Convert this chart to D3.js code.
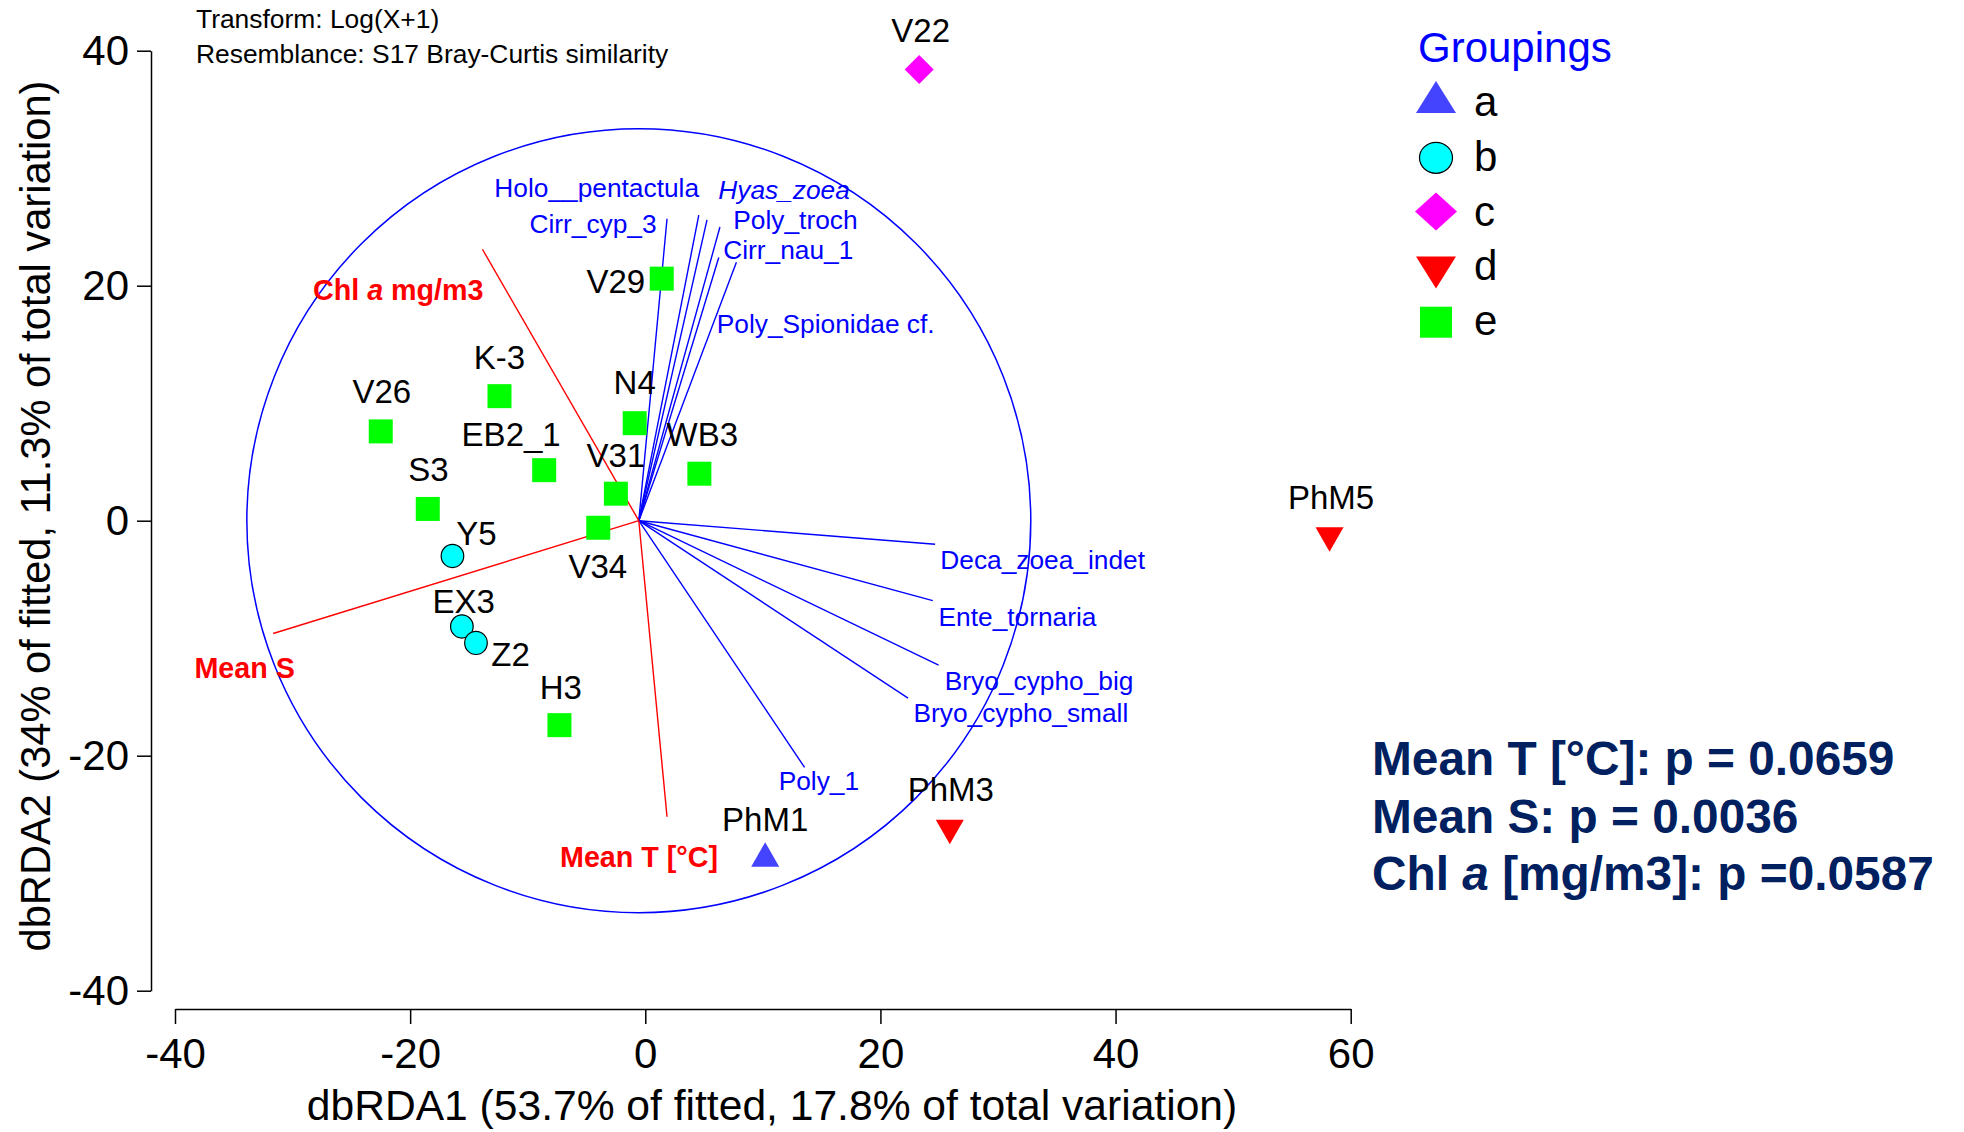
<!DOCTYPE html>
<html>
<head>
<meta charset="utf-8">
<script src="https://cdn.jsdelivr.net/npm/d3@7"></script>
<style>
  body { margin: 0; background: #fff; }
  text { font-family: "Liberation Sans", Arial, Helvetica, sans-serif; }
</style>
</head>
<body>
<svg id="chart" width="1964" height="1132"></svg>
<script>
// ---- Site scores on dbRDA1 / dbRDA2 ----
const sites    = ["V22","V29","K-3","V26","N4","EB2_1","WB3","V31","S3","V34","Y5","EX3","Z2","H3","PhM1","PhM3","PhM5"];
const siteGroup = ["c","e","e","e","e","e","e","e","e","e","b","b","b","e","a","d","d"];
const dbRDA1   = [23.3, 1.4, -12.4, -22.5, -0.9, -8.6, 4.6, -2.5, -18.5, -4.0, -16.4, -15.6, -14.4, -7.3, 10.2, 25.9, 58.2];
const dbRDA2   = [38.4, 20.6, 10.6, 7.6, 8.3, 4.3, 4.0, 2.3, 1.0, -0.6, -3.0, -9.0, -10.4, -17.4, -28.4, -26.5, -1.6];

// ---- Predictor (environmental) vectors, relative to the circle centre ----
const envNames = ["Chl *a* mg/m3", "Mean S", "Mean T [°C]"];
const envX     = [-13.3, -31.1, 2.4];
const envY     = [23.1, -9.6, -25.2];

// ---- Species vectors, relative to the circle centre ----
const sppNames = ["Cirr_cyp_3","Holo__pentactula","*Hyas_zoea*","Poly_troch","Cirr_nau_1","Poly_Spionidae cf.",
                  "Deca_zoea_indet","Ente_tornaria","Bryo_cypho_big","Bryo_cypho_small","Poly_1"];
const sppX     = [2.4, 5.1, 5.8, 6.9, 6.8, 8.3, 25.2, 25.0, 25.5, 22.9, 14.1];
const sppY     = [25.7, 26.0, 25.6, 25.0, 22.4, 22.0, -2.0, -6.8, -12.3, -15.1, -21.0];

// Vector circle (centre in axis units, radius in axis units)
const circleCentre = [-0.55, 0];
const circleRadius = 33.34;

// Axis ticks and titles
const xTicks = [-40, -20, 0, 20, 40, 60];
const yTicks = [-40, -20, 0, 20, 40];
const xTitle = "dbRDA1 (53.7% of fitted, 17.8% of total variation)";
const yTitle = "dbRDA2 (34% of fitted, 11.3% of total variation)";
const headerLines = ["Transform: Log(X+1)", "Resemblance: S17 Bray-Curtis similarity"];

// Legend groups
const groups = ["a","b","c","d","e"];
const statsLines = ["Mean T [°C]: p = 0.0659", "Mean S: p = 0.0036", "Chl *a* [mg/m3]: p =0.0587"];

// ---- Presentation ----
const groupStyle = {
  a: {shape: "triUp",   fill: "#4444ff"},
  b: {shape: "circle",  fill: "#00ffff", stroke: "#000"},
  c: {shape: "diamond", fill: "#ff00ff"},
  d: {shape: "triDown", fill: "#ff0000"},
  e: {shape: "square",  fill: "#00ff00"}
};

// label placement for site names: [dx, dy] from the marker centre (px), text centred
const siteLabelPos = {
  "V22": [1.5, -28], "V29": [-46, 14], "K-3": [0, -27.5], "V26": [1, -28], "N4": [0, -29],
  "EB2_1": [-33, -24], "WB3": [3, -28], "V31": [0, -26.5], "S3": [0.7, -28], "V34": [-0.5, 50.5],
  "Y5": [24, -11], "EX3": [1.7, -13.4], "Z2": [34.6, 23.4], "H3": [1.3, -26.5],
  "PhM1": [0, -23.3], "PhM3": [1, -31], "PhM5": [1.5, -31]
};
// label placement for vector names: [dx, dy, anchor] from the tip (px)
const sppLabelPos = {
  "Cirr_cyp_3": [-10.4, 14.3, "end"], "Holo__pentactula": [-204.4, -18.3, "start"],
  "*Hyas_zoea*": [11.3, -21, "start"], "Poly_troch": [13.4, 2, "start"],
  "Cirr_nau_1": [4.5, 1, "start"], "Poly_Spionidae cf.": [-19.6, 71, "start"],
  "Deca_zoea_indet": [5.2, 25, "start"], "Ente_tornaria": [5.8, 25.3, "start"],
  "Bryo_cypho_big": [6.2, 25, "start"], "Bryo_cypho_small": [5.4, 24, "start"],
  "Poly_1": [-25.9, 23, "start"]
};
const envLabelPos = {
  "Chl *a* mg/m3": [-169.5, 50.7], "Mean S": [-78.7, 44.3], "Mean T [°C]": [-107, 50]
};

const svg = d3.select("#chart");
svg.append("rect").attr("width", 1964).attr("height", 1132).attr("fill", "#fff");

const x = d3.scaleLinear().domain([-40, 60]).range([175, 1350.7]);
const y = d3.scaleLinear().domain([-40, 40]).range([990.7, 50.7]);

// text with *italic* segments
function richText(sel, str) {
  const parts = str.split("*");
  parts.forEach((p, i) => {
    if (!p) return;
    sel.append("tspan").attr("font-style", i % 2 ? "italic" : null).text(p);
  });
  return sel;
}

// symbol path centred on its bounding box
function symbolPath(shape, w, h) {
  const hw = w / 2, hh = h / 2;
  switch (shape) {
    case "square":  return `M${-hw},${-hh}H${hw}V${hh}H${-hw}Z`;
    case "diamond": return `M0,${-hh}L${hw},0L0,${hh}L${-hw},0Z`;
    case "triUp":   return `M0,${-hh}L${hw},${hh}L${-hw},${hh}Z`;
    case "triDown": return `M${-hw},${-hh}L${hw},${-hh}L0,${hh}Z`;
  }
}
function drawSymbol(g, group, cx, cy, big) {
  const st = groupStyle[group];
  if (st.shape === "circle") {
    g.append("ellipse").attr("cx", cx).attr("cy", cy)
      .attr("rx", big ? 16.5 : 11.3).attr("ry", big ? 15.5 : 11.6)
      .attr("fill", st.fill).attr("stroke", st.stroke).attr("stroke-width", 1.2);
    return;
  }
  const dims = {
    square:  big ? [32, 31] : [24, 24],
    diamond: big ? [42, 38] : [29, 29],
    triUp:   big ? [40, 32] : [28, 24.5],
    triDown: big ? [40, 32] : [28, 24.5]
  }[st.shape];
  g.append("path").attr("transform", `translate(${cx},${cy})`)
    .attr("d", symbolPath(st.shape, dims[0], dims[1])).attr("fill", st.fill);
}

// ---- Axes ----
const axisY = svg.append("g").attr("transform", `translate(151,0)`)
  .call(d3.axisLeft(y).tickValues(yTicks).tickSize(14).tickSizeOuter(0).tickPadding(8).tickFormat(d3.format("d")));
const axisX = svg.append("g").attr("transform", `translate(0,1009)`)
  .call(d3.axisBottom(x).tickValues(xTicks).tickSize(15).tickSizeOuter(0).tickPadding(14).tickFormat(d3.format("d")));
[axisX, axisY].forEach(a => {
  a.selectAll("path, line").attr("stroke", "#000").attr("stroke-width", 1.5);
  a.selectAll("text").attr("font-size", 42).attr("fill", "#000")
    .attr("font-family", '"Liberation Sans", Arial, sans-serif');
});
axisY.selectAll("text").text(d => d < 0 ? "-" + Math.abs(d) : d);
axisX.selectAll("text").text(d => d < 0 ? "-" + Math.abs(d) : d);

svg.append("text").attr("x", 772).attr("y", 1120).attr("text-anchor", "middle")
  .attr("font-size", 42.6).text(xTitle);
svg.append("text").attr("transform", "translate(50,516) rotate(-90)").attr("text-anchor", "middle")
  .attr("font-size", 41.6).text(yTitle);

// header notes
headerLines.forEach((t, i) => {
  svg.append("text").attr("x", 196).attr("y", 27.5 + i * 35.3).attr("font-size", 26.4).text(t);
});

// ---- Vector overlay ----
const cx0 = x(circleCentre[0]), cy0 = y(circleCentre[1]);
const rPx = x(circleRadius) - x(0);
svg.append("circle").attr("cx", cx0).attr("cy", cy0).attr("r", rPx)
  .attr("fill", "none").attr("stroke", "#0000ff").attr("stroke-width", 1.5);

const vec = svg.append("g");
sppNames.forEach((n, i) => {
  const tx = x(circleCentre[0] + sppX[i]), ty = y(circleCentre[1] + sppY[i]);
  vec.append("line").attr("x1", cx0).attr("y1", cy0).attr("x2", tx).attr("y2", ty)
    .attr("stroke", "#0000ff").attr("stroke-width", 1.4);
  const p = sppLabelPos[n];
  richText(vec.append("text").attr("x", tx + p[0]).attr("y", ty + p[1]).attr("text-anchor", p[2])
    .attr("font-size", 26.3).attr("fill", "#0000ff"), n);
});
envNames.forEach((n, i) => {
  const tx = x(circleCentre[0] + envX[i]), ty = y(circleCentre[1] + envY[i]);
  vec.append("line").attr("x1", cx0).attr("y1", cy0).attr("x2", tx).attr("y2", ty)
    .attr("stroke", "#ff0000").attr("stroke-width", 1.4);
  const p = envLabelPos[n];
  richText(vec.append("text").attr("x", tx + p[0]).attr("y", ty + p[1])
    .attr("font-size", 28.7).attr("font-weight", "bold").attr("fill", "#ff0000"), n);
});

// ---- Sites ----
const pts = svg.append("g");
sites.forEach((s, i) => {
  const px = x(dbRDA1[i]), py = y(dbRDA2[i]);
  drawSymbol(pts, siteGroup[i], px, py, false);
  const p = siteLabelPos[s];
  pts.append("text").attr("x", px + p[0]).attr("y", py + p[1]).attr("text-anchor", "middle")
    .attr("font-size", 33).attr("fill", "#000").text(s);
});

// ---- Legend ----
const lg = svg.append("g");
lg.append("text").attr("x", 1418).attr("y", 62).attr("font-size", 42).attr("fill", "#0000ff").text("Groupings");
const shapeShift = {triUp: -6, triDown: 5, circle: 0, diamond: -1, square: 0};
groups.forEach((g, i) => {
  const base = 116 + i * 54.8;
  drawSymbol(lg, g, 1436, base - 13 + shapeShift[groupStyle[g].shape], true);
  lg.append("text").attr("x", 1474).attr("y", base).attr("font-size", 42).attr("fill", "#000").text(g);
});

// ---- Significance notes ----
statsLines.forEach((t, i) => {
  richText(svg.append("text").attr("x", 1372).attr("y", 775 + i * 57.5)
    .attr("font-size", 47.8).attr("font-weight", "bold").attr("fill", "#002060"), t);
});
</script>
</body>
</html>
